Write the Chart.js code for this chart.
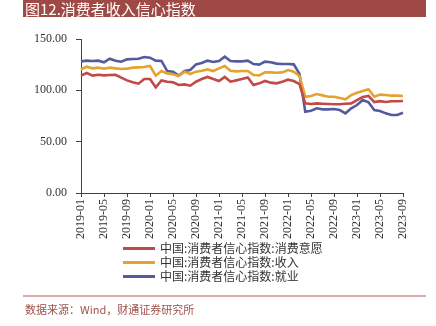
<!DOCTYPE html>
<html>
<head>
<meta charset="utf-8">
<script src="https://cdn.jsdelivr.net/npm/chart.js@4"></script>
<style>
  html, body { margin: 0; padding: 0; background: #fff; }
  #wrap { position: relative; width: 436px; height: 326px; overflow: hidden; }
  #chart { position: absolute; left: 0; top: 0; }
  #title {
    position: absolute; left: 23px; top: 0; width: 403px; height: 17px;
    background: #9e4945; color: #fff; z-index: 2;
    font: 15px "Noto Sans CJK SC", sans-serif; line-height: 17px;
    padding-left: 2px; box-sizing: border-box;
  }
  #legend { position: absolute; left: 123px; top: 241px; z-index: 2; }
  .row { height: 14px; display: flex; align-items: center; }
  .swatch { width: 32px; height: 3px; margin-right: 5px; }
  .txt { font: 12px "Noto Sans CJK SC", sans-serif; color: #333; line-height: 14px; }
  #rule { position: absolute; left: 23px; top: 295px; width: 403px; height: 2px; background: #d9aaa8; }
  #source {
    position: absolute; left: 25px; top: 301px; z-index: 2;
    font: 11px "Noto Sans CJK SC", sans-serif; color: #a0504a;
  }
</style>
</head>
<body>
<div id="wrap">
  <canvas id="chart" width="436" height="326"></canvas>
  <div id="title">图12.消费者收入信心指数</div>
  <div id="legend"></div>
  <div id="rule"></div>
  <div id="source">数据来源：Wind，财通证券研究所</div>
</div>
<script>
// months 2019-01 .. 2023-09
const months = [];
for (let y = 2019; y <= 2023; y++) {
    for (let m = 1; m <= 12; m++) {
        if (y === 2023 && m > 9) break;
        months.push(y + "-" + String(m).padStart(2, "0"));
    }
}

const willingness = [
    114.3, 116.9, 114.3, 115.2, 114.6, 114.9, 115.2, 112.3, 109.7, 107.8, 106.5, 111.0,
    111.0, 102.9, 109.7, 108.4, 107.8, 105.2, 105.8, 104.5, 108.4, 111.0, 113.0, 111.0,
    109.1, 113.0, 108.4, 109.7, 111.0, 112.6, 105.2, 106.8, 109.1, 107.5, 106.8, 108.4,
    110.4, 109.1, 106.0, 87.3, 86.7, 87.3, 87.0, 86.7, 86.4, 86.4, 87.0, 87.3,
    90.5, 93.5, 94.5, 88.5, 89.5, 88.6, 89.3, 89.3, 89.6
];
const income = [
    120.5, 123.0, 121.4, 122.1, 121.1, 122.1, 121.4, 120.8, 121.1, 122.1, 122.4, 122.7,
    123.7, 114.3, 118.8, 116.5, 115.6, 113.9, 118.2, 115.9, 118.2, 119.1, 120.4, 118.8,
    121.4, 123.7, 119.1, 118.5, 118.8, 118.8, 114.9, 114.6, 117.5, 117.5, 117.2, 117.5,
    119.8, 118.2, 114.0, 93.8, 94.5, 96.4, 95.1, 93.8, 93.8, 92.5, 91.2, 95.4,
    97.7, 99.3, 101.0, 93.8, 95.8, 95.4, 94.8, 94.8, 94.5
];
const employment = [
    128.2, 128.9, 128.6, 128.9, 127.3, 130.8, 128.9, 127.9, 130.2, 130.5, 130.8, 132.5,
    131.8, 128.9, 128.6, 118.8, 118.2, 114.3, 118.8, 119.8, 125.3, 126.6, 128.9, 127.6,
    128.6, 132.8, 128.6, 128.2, 128.2, 128.9, 125.6, 125.0, 127.9, 127.3, 126.0, 125.6,
    125.6, 125.3, 116.0, 79.2, 80.2, 82.5, 81.5, 81.5, 81.8, 80.8, 77.6, 82.5,
    85.7, 90.6, 88.3, 80.8, 79.9, 77.6, 76.0, 76.0, 78.2
];
const yTicks = [0, 50, 100, 150];

const serif = "'Liberation Serif', 'Noto Sans CJK SC', serif";

const series = [
    { label: "中国:消费者信心指数:消费意愿", data: willingness, color: "#c14a48" },
    { label: "中国:消费者信心指数:收入", data: income, color: "#e6a22e" },
    { label: "中国:消费者信心指数:就业", data: employment, color: "#525c9c" }
];

// legend rows, left aligned like the original
const legendEl = document.getElementById("legend");
series.forEach(s => {
    const row = document.createElement("div");
    row.className = "row";
    row.innerHTML = '<span class="swatch" style="background:' + s.color + '"></span>' +
        '<span class="txt">' + s.label + '</span>';
    legendEl.appendChild(row);
});

new Chart(document.getElementById("chart"), {
    type: "line",
    data: {
        labels: months,
        datasets: series.map(s => ({
            label: s.label,
            data: s.data,
            borderColor: s.color,
            backgroundColor: s.color,
            borderWidth: 2.6,
            pointRadius: 0,
            tension: 0,
            fill: false
        }))
    },
    options: {
        responsive: false,
        animation: false,
        layout: { padding: { left: 21, top: 39, right: 33, bottom: 73 } },
        plugins: {
            legend: { display: false },
            tooltip: { enabled: false }
        },
        scales: {
            x: {
                offset: false,
                grid: { display: true, drawOnChartArea: false, tickLength: 4, color: "#404040" },
                border: { color: "#404040", width: 1 },
                ticks: {
                    autoSkip: false,
                    minRotation: 90,
                    maxRotation: 90,
                    padding: 2,
                    color: "#333",
                    font: { family: serif, size: 12 },
                    callback: function (v, i) {
                        return i % 4 === 0 ? months[i] : null;
                    }
                },
                afterFit: s => { s.height = 60; }
            },
            y: {
                min: 0,
                max: 150,
                afterBuildTicks: s => { s.ticks = yTicks.map(v => ({ value: v })); },
                grid: { display: true, drawOnChartArea: false, tickLength: 5, color: "#404040" },
                border: { color: "#404040", width: 1 },
                ticks: {
                    padding: 9,
                    color: "#333",
                    font: { family: serif, size: 12 },
                    callback: v => v.toFixed(2)
                },
                afterFit: s => { s.width = 60; }
            }
        }
    }
});
</script>
</body>
</html>
